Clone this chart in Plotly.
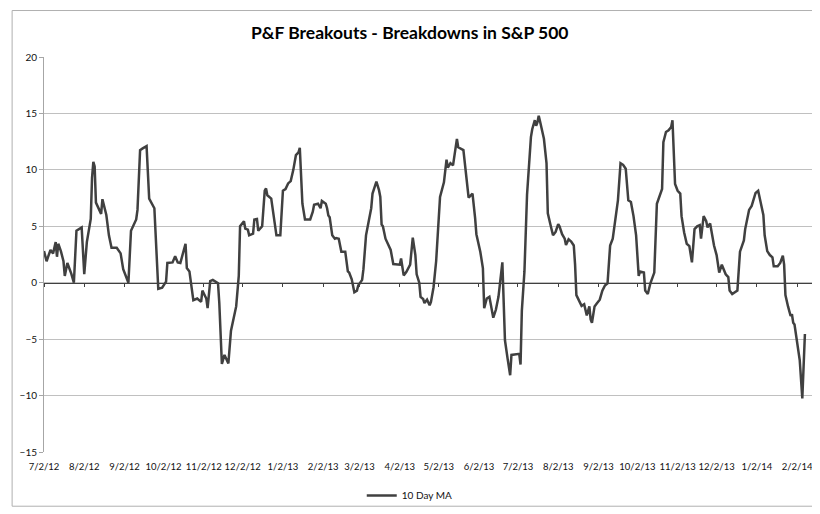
import plotly.graph_objects as go

# ---- data ----
dates = [
    "2012-07-02", "2012-07-04", "2012-07-05", "2012-07-07", "2012-07-09", "2012-07-11", "2012-07-12", "2012-07-13",
    "2012-07-15", "2012-07-17", "2012-07-18", "2012-07-20", "2012-07-23", "2012-07-25", "2012-07-27", "2012-07-31",
    "2012-08-02", "2012-08-04", "2012-08-07", "2012-08-08", "2012-08-09", "2012-08-10", "2012-08-11", "2012-08-13",
    "2012-08-15", "2012-08-16", "2012-08-19", "2012-08-21", "2012-08-23", "2012-08-27", "2012-08-30", "2012-09-01",
    "2012-09-05", "2012-09-07", "2012-09-11", "2012-09-12", "2012-09-14", "2012-09-16", "2012-09-19", "2012-09-21",
    "2012-09-25", "2012-09-28", "2012-10-01", "2012-10-04", "2012-10-05", "2012-10-09", "2012-10-11", "2012-10-13",
    "2012-10-15", "2012-10-19", "2012-10-20", "2012-10-22", "2012-10-25", "2012-10-28", "2012-10-31", "2012-11-01",
    "2012-11-04", "2012-11-05", "2012-11-07", "2012-11-09", "2012-11-13", "2012-11-14", "2012-11-16", "2012-11-18",
    "2012-11-20", "2012-11-21", "2012-11-23", "2012-11-27", "2012-11-29", "2012-11-30", "2012-12-03", "2012-12-04",
    "2012-12-06", "2012-12-07", "2012-12-10", "2012-12-11", "2012-12-13", "2012-12-14", "2012-12-17", "2012-12-19",
    "2012-12-20", "2012-12-21", "2012-12-24", "2012-12-26", "2012-12-28", "2012-12-31", "2013-01-02", "2013-01-04",
    "2013-01-06", "2013-01-08", "2013-01-10", "2013-01-12", "2013-01-14", "2013-01-15", "2013-01-17", "2013-01-19",
    "2013-01-23", "2013-01-25", "2013-01-26", "2013-01-29", "2013-01-31", "2013-02-01", "2013-02-04", "2013-02-05",
    "2013-02-06", "2013-02-07", "2013-02-09", "2013-02-11", "2013-02-12", "2013-02-14", "2013-02-16", "2013-02-19",
    "2013-02-21", "2013-02-22", "2013-02-24", "2013-02-26", "2013-02-28", "2013-03-01", "2013-03-04", "2013-03-05",
    "2013-03-07", "2013-03-09", "2013-03-11", "2013-03-12", "2013-03-13", "2013-03-15", "2013-03-17", "2013-03-18",
    "2013-03-19", "2013-03-20", "2013-03-22", "2013-03-24", "2013-03-26", "2013-03-28", "2013-03-31", "2013-04-02",
    "2013-04-03", "2013-04-05", "2013-04-07", "2013-04-10", "2013-04-12", "2013-04-14", "2013-04-15", "2013-04-17",
    "2013-04-18", "2013-04-20", "2013-04-21", "2013-04-23", "2013-04-25", "2013-04-26", "2013-04-28", "2013-04-30",
    "2013-05-03", "2013-05-04", "2013-05-06", "2013-05-08", "2013-05-09", "2013-05-11", "2013-05-13", "2013-05-16",
    "2013-05-17", "2013-05-21", "2013-05-23", "2013-05-25", "2013-05-26", "2013-05-28", "2013-05-30", "2013-05-31",
    "2013-06-03", "2013-06-05", "2013-06-06", "2013-06-08", "2013-06-10", "2013-06-12", "2013-06-13", "2013-06-15",
    "2013-06-17", "2013-06-20", "2013-06-21", "2013-06-22", "2013-06-24", "2013-06-26", "2013-06-27", "2013-07-01",
    "2013-07-03", "2013-07-04", "2013-07-05", "2013-07-07", "2013-07-08", "2013-07-09", "2013-07-12", "2013-07-13",
    "2013-07-15", "2013-07-16", "2013-07-17", "2013-07-18", "2013-07-19", "2013-07-22", "2013-07-24", "2013-07-25",
    "2013-07-27", "2013-07-29", "2013-07-31", "2013-08-02", "2013-08-03", "2013-08-05", "2013-08-07", "2013-08-08",
    "2013-08-10", "2013-08-12", "2013-08-14", "2013-08-15", "2013-08-16", "2013-08-18", "2013-08-20", "2013-08-22",
    "2013-08-24", "2013-08-26", "2013-08-27", "2013-08-28", "2013-08-30", "2013-09-01", "2013-09-03", "2013-09-05",
    "2013-09-07", "2013-09-09", "2013-09-11", "2013-09-13", "2013-09-15", "2013-09-17", "2013-09-19", "2013-09-21",
    "2013-09-23", "2013-09-25", "2013-09-27", "2013-09-29", "2013-10-01", "2013-10-03", "2013-10-04", "2013-10-07",
    "2013-10-08", "2013-10-10", "2013-10-12", "2013-10-15", "2013-10-17", "2013-10-20", "2013-10-21", "2013-10-22",
    "2013-10-24", "2013-10-26", "2013-10-28", "2013-10-29", "2013-10-31", "2013-11-02", "2013-11-04", "2013-11-05",
    "2013-11-07", "2013-11-09", "2013-11-11", "2013-11-13", "2013-11-15", "2013-11-17", "2013-11-19", "2013-11-20",
    "2013-11-22", "2013-11-24", "2013-11-25", "2013-11-27", "2013-11-28", "2013-11-30", "2013-12-02", "2013-12-04",
    "2013-12-06", "2013-12-08", "2013-12-09", "2013-12-11", "2013-12-12", "2013-12-14", "2013-12-16", "2013-12-18",
    "2013-12-20", "2013-12-21", "2013-12-23", "2013-12-24", "2013-12-27", "2013-12-29", "2013-12-30", "2014-01-01",
    "2014-01-03", "2014-01-05", "2014-01-07", "2014-01-08", "2014-01-10", "2014-01-12", "2014-01-14", "2014-01-15",
    "2014-01-18", "2014-01-20", "2014-01-22", "2014-01-23", "2014-01-24", "2014-01-26", "2014-01-28", "2014-01-29",
    "2014-01-30", "2014-01-31", "2014-02-02", "2014-02-04", "2014-02-06", "2014-02-08",
]

ma10 = [
    2.8, 1.9, 2.25, 2.9, 2.6, 3.6, 2.3, 3.45,
    2.8, 1.9, 0.6, 1.75, 0.8, 0.0, 4.6, 4.9,
    0.75, 3.6, 5.65, 9.3, 10.7, 10.3, 7.1, 6.6,
    6.1, 7.4, 6.0, 4.2, 3.1, 3.1, 2.6, 1.2,
    0.0, 4.6, 5.6, 6.45, 11.75, 11.9, 12.1, 7.45,
    6.6, -0.55, -0.45, 0.1, 1.75, 1.8, 2.35, 1.8,
    1.75, 3.45, 1.3, 1.0, -1.55, -1.4, -1.7, -0.7,
    -1.4, -2.25, 0.15, 0.25, -0.05, -1.8, -7.2, -6.4,
    -7.0, -7.15, -4.25, -2.1, 0.6, 5.0, 5.45, 4.8,
    4.7, 4.2, 4.35, 5.6, 5.65, 4.6, 5.0, 8.15,
    8.35, 7.75, 7.45, 6.0, 4.2, 4.2, 8.15, 8.3,
    8.8, 9.0, 10.0, 11.3, 11.55, 11.95, 7.0, 5.6,
    5.6, 6.3, 6.9, 7.0, 6.6, 7.25, 7.0, 6.6,
    5.95, 5.8, 4.2, 3.9, 3.95, 3.9, 2.75, 2.75,
    1.0, 0.9, 0.3, -0.85, -0.7, -0.25, 0.25, 1.2,
    4.2, 5.4, 6.6, 7.9, 8.3, 8.95, 8.2, 7.6,
    5.15, 5.0, 3.9, 3.4, 2.9, 1.65, 1.6, 1.6,
    2.15, 0.65, 0.95, 1.6, 4.0, 2.45, 0.75, 0.0,
    -1.25, -1.45, -1.8, -1.5, -2.0, -1.7, -0.4, 1.9,
    7.6, 8.05, 8.9, 10.9, 10.2, 10.6, 10.4, 12.75,
    12.0, 11.75, 9.9, 7.55, 7.65, 7.9, 5.75, 4.3,
    2.75, 1.3, -2.25, -1.4, -1.25, -2.4, -3.1, -2.4,
    -1.25, 1.8, -2.1, -5.1, -6.7, -8.2, -6.4, -6.3,
    -6.3, -7.25, -2.5, 1.0, 4.0, 7.8, 12.9, 13.6,
    14.4, 13.9, 14.2, 14.8, 14.3, 12.75, 10.6, 6.15,
    5.15, 4.2, 4.5, 5.2, 5.0, 4.3, 3.9, 3.35,
    3.85, 3.65, 3.3, 1.6, -1.1, -1.6, -2.05, -1.9,
    -2.9, -2.1, -3.25, -3.55, -2.1, -1.8, -1.5, -0.7,
    -0.25, -0.05, 3.3, 3.9, 5.6, 7.3, 10.6, 10.45,
    10.1, 7.3, 7.15, 5.9, 4.2, 0.6, 1.0, 0.9,
    -0.7, -1.0, -0.05, 0.9, 7.0, 7.9, 8.3, 12.45,
    13.35, 13.5, 13.8, 14.4, 8.75, 8.15, 7.9, 5.9,
    4.45, 3.45, 3.25, 1.8, 4.75, 5.0, 5.1, 3.9,
    5.9, 5.45, 4.9, 5.25, 4.45, 3.3, 2.45, 0.9,
    1.6, 1.0, 0.75, 0.5, -0.7, -1.0, -0.85, -0.7,
    2.75, 3.15, 3.75, 4.75, 6.45, 6.8, 7.15, 7.95,
    8.15, 7.15, 6.0, 4.2, 2.8, 2.45, 2.25, 1.45,
    1.45, 1.75, 2.4, 1.6, -1.1, -2.1, -2.95, -2.8,
    -3.55, -3.7, -5.25, -6.85, -10.25, -4.55,
]

tick_dates = [
    "2012-07-02", "2012-08-02", "2012-09-02", "2012-10-02", "2012-11-02", "2012-12-02", "2013-01-02",
    "2013-02-02", "2013-03-02", "2013-04-02", "2013-05-02", "2013-06-02", "2013-07-02", "2013-08-02",
    "2013-09-02", "2013-10-02", "2013-11-02", "2013-12-02", "2014-01-02", "2014-02-02",
]
tick_labels = [
    "7/2/12", "8/2/12", "9/2/12", "10/2/12", "11/2/12", "12/2/12", "1/2/13",
    "2/2/13", "3/2/13", "4/2/13", "5/2/13", "6/2/13", "7/2/13", "8/2/13",
    "9/2/13", "10/2/13", "11/2/13", "12/2/13", "1/2/14", "2/2/14",
]
x_range = ["2012-07-02", "2014-02-15"]
y_range = [-15, 20]
y_ticks = [-15, -10, -5, 0, 5, 10, 15, 20]

series_name = "10 Day MA"
title_text = "P&F Breakouts - Breakdowns in S&P 500"

# ---- figure ----
FONT = "Lato, 'Liberation Sans', Arial, sans-serif"
LINE_COLOR = "#404040"
GRID = "#c0c0c0"
TEXT = "#111111"

fig = go.Figure()
fig.add_trace(go.Scatter(
    x=dates, y=ma10, mode="lines", name=series_name,
    line=dict(color=LINE_COLOR, width=2.5),
))
# invisible helper trace so the zero-crossing axis is rendered
fig.add_trace(go.Scatter(
    x=x_range, y=[0, 0], xaxis="x2", mode="lines",
    line=dict(color="rgba(0,0,0,0)", width=0), showlegend=False, hoverinfo="skip",
))

zero_pos = (0 - y_range[0]) / (y_range[1] - y_range[0])

fig.update_layout(
    width=820, height=514,
    margin=dict(l=33, r=14, t=49, b=57),
    paper_bgcolor="white", plot_bgcolor="white",
    font=dict(family=FONT, size=9.5, color=TEXT),
    title=dict(text=title_text, x=0.49, xanchor="center", y=1 - 25 / 514, yanchor="middle",
               xref="container",
               font=dict(family=FONT, size=17.5, color="#000000", weight="bold")),
    showlegend=True,
    legend=dict(orientation="h", x=0.475, xanchor="center", y=-0.11, yanchor="middle",
                font=dict(size=10, color=TEXT), bgcolor="rgba(0,0,0,0)"),
    xaxis=dict(
        type="date", range=x_range, tickmode="array", tickvals=tick_dates, ticktext=tick_labels,
        tickangle=0, showgrid=False, zeroline=False, showline=False, ticks="",
        tickfont=dict(size=9.5, color=TEXT), ticklabelstandoff=7,
    ),
    xaxis2=dict(
        type="date", range=x_range, overlaying="x", anchor="free", position=zero_pos,
        side="bottom", tickmode="array", tickvals=tick_dates, showticklabels=False,
        showgrid=False, zeroline=False, showline=True, linecolor="#404040", linewidth=1,
        ticks="outside", ticklen=3, tickcolor="#404040", tickwidth=1,
    ),
    yaxis=dict(
        range=y_range, tickmode="array", tickvals=y_ticks,
        showgrid=True, gridcolor=GRID, gridwidth=1, zeroline=False,
        showline=True, linecolor="#a6a6a6", linewidth=1,
        ticks="outside", ticklen=4, tickcolor="#a6a6a6",
        tickfont=dict(size=10, color=TEXT),
    ),
    shapes=[dict(type="rect", xref="paper", yref="paper",
                 x0=(1 - 33) / 773, x1=(818 - 33) / 773,
                 y0=(457 - 513) / 408, y1=(457 - 1) / 408,
                 line=dict(color="#b0b0b0", width=1), fillcolor="rgba(0,0,0,0)", layer="below")],
)

fig.write_html("out.html")
